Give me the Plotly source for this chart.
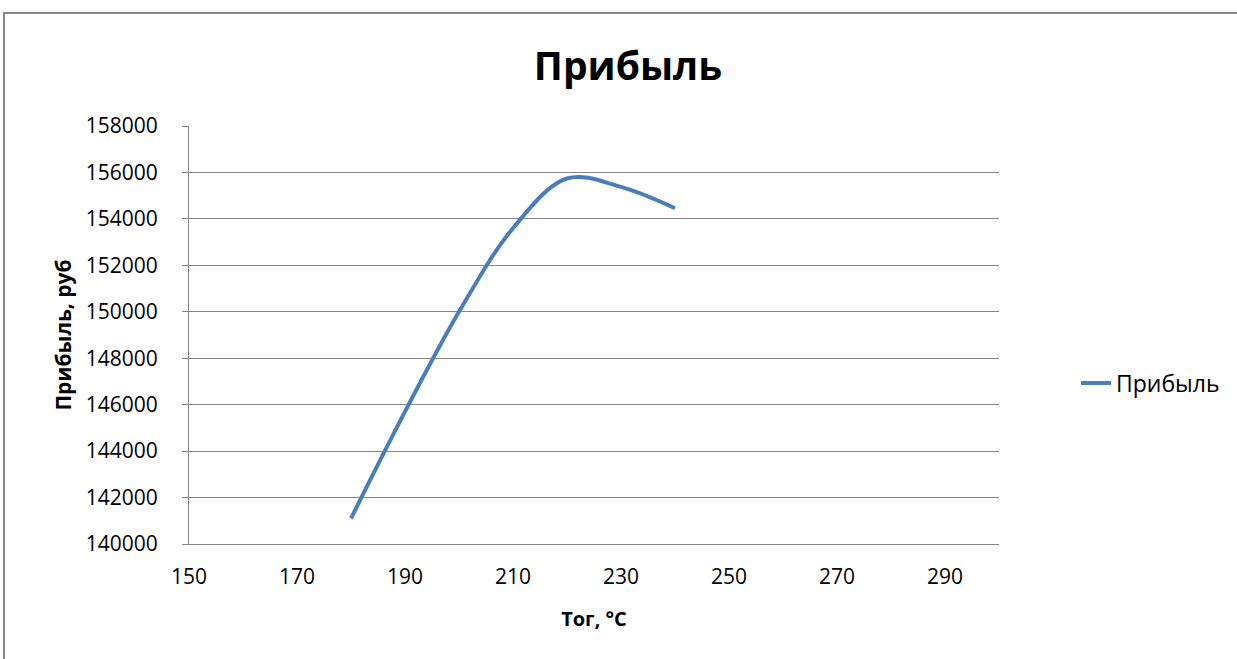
import plotly.graph_objects as go

temps = [180, 190, 200, 210, 220, 230, 240]
profit = [141100, 145700, 150000, 153600, 155740, 155380, 154460]

x_ticks = [150, 170, 190, 210, 230, 250, 270, 290]
y_ticks = [140000, 142000, 144000, 146000, 148000, 150000, 152000, 154000, 156000, 158000]

W, H = 1237, 659
L, R, T, B = 189, 238, 126, 115
pw, ph = W - L - R, H - T - B

def px_to_paper_x(px):
    return (px - L) / pw

def px_to_paper_y(py):
    return (H - B - py) / ph

FONT = "Open Sans"
GRID = "#868686"

fig = go.Figure()
fig.add_trace(go.Scatter(
    x=temps, y=profit, mode="lines", name="Прибыль",
    line=dict(color="#4A7EBB", width=4, shape="spline", smoothing=1.0, simplify=False),
))

fig.update_layout(
    width=W, height=H,
    margin=dict(l=L, r=R, t=T, b=B, autoexpand=False),
    paper_bgcolor="white", plot_bgcolor="white",
    font=dict(family=FONT, size=21, color="black"),
    title=dict(text="<b>Прибыль</b>", font=dict(family=FONT, size=39, color="black"),
               x=628 / W, xanchor="center",
               y=1 - 66 / H, yanchor="middle"),
    showlegend=True,
    legend=dict(x=px_to_paper_x(1076), xanchor="left",
                y=px_to_paper_y(383), yanchor="middle",
                font=dict(family=FONT, size=23, color="black"),
                bgcolor="rgba(0,0,0,0)", borderwidth=0),
    xaxis=dict(range=[150, 300], tickvals=x_ticks, showgrid=False, zeroline=False,
               showline=True, linecolor=GRID, linewidth=1, ticks="",
               ticklabelstandoff=14,
               tickfont=dict(family=FONT, size=21, color="black"),
               title=dict(text="<b>Тог, °С</b>", font=dict(family=FONT, size=20, color="black"),
                          standoff=22)),
    yaxis=dict(range=[140000, 158000], tickvals=y_ticks, tickformat="d",
               showgrid=True, gridcolor=GRID,
               gridwidth=1, zeroline=False, showline=True, linecolor=GRID, linewidth=1,
               ticks="outside", ticklen=6, tickcolor=GRID, ticklabelstandoff=20,
               tickfont=dict(family=FONT, size=21, color="black"),
               title=dict(text="<b>Прибыль, руб</b>", font=dict(family=FONT, size=21, color="black"),
                          standoff=8)),
)

fig.add_shape(type="rect", xref="paper", yref="paper",
              x0=px_to_paper_x(4), x1=px_to_paper_x(1300),
              y0=px_to_paper_y(700), y1=px_to_paper_y(13),
              line=dict(color=GRID, width=2), fillcolor="rgba(0,0,0,0)", layer="below")

fig.write_html("out.html")
